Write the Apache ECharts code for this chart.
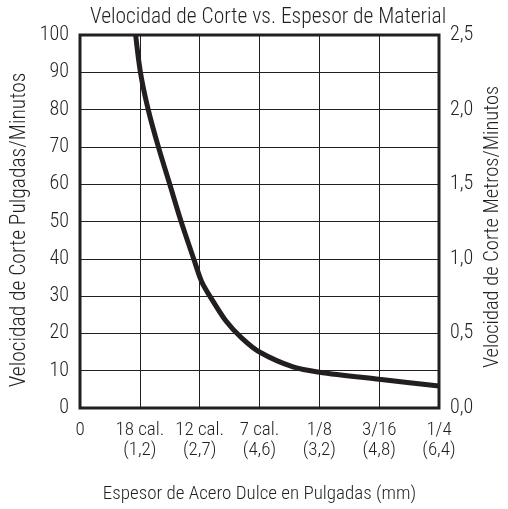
<!DOCTYPE html>
<html><head><meta charset="utf-8">
<script src="https://cdn.jsdelivr.net/npm/echarts@6/dist/echarts.min.js"></script>
<style>html,body{margin:0;padding:0;background:#fff}#c{width:508px;height:509px}</style>
</head><body><div id="c"></div>
<script>
const xValues = [0.93, 1.01, 1.14, 1.31, 1.50, 1.69, 1.90, 2.03, 2.17, 2.44, 2.70, 3.0, 3.56, 4.0, 5.0, 6.0];
const yValues = [100, 90, 80, 70, 60, 50, 40, 34, 30, 23.3, 18.8, 15, 11, 9.6, 7.7, 5.9];
const xTickLabels = ['0', '18 cal.\n(1,2)', '12 cal.\n(2,7)', '7 cal.\n(4,6)', '1/8\n(3,2)', '3/16\n(4,8)', '1/4\n(6,4)'];
const leftTitle = 'Velocidad de Corte Pulgadas/Minutos';
const rightTitle = 'Velocidad de Corte Metros/Minutos';
const FONT = '"Liberation Sans Narrow", "Roboto Condensed", Roboto, sans-serif';
const INK = '#231f20';
const chart = echarts.init(document.getElementById('c'));
chart.setOption({
  animation: false,
  title: { text: 'Velocidad de Corte vs. Espesor de Material', left: 85, top: 2,
    textStyle: { fontFamily: FONT, fontSize: 21.5, fontWeight: 300, color: INK } },
  grid: { left: 80, right: 69, top: 35, bottom: 100, show: true, borderColor: INK, borderWidth: 3, backgroundColor: 'transparent' },
  graphic: [
    { type: 'text', x: 20, y: 230, rotation: Math.PI / 2,
      style: { text: leftTitle, fontFamily: FONT, fontSize: 21.5, fontWeight: 300, fill: INK, align: 'center', verticalAlign: 'middle' } },
    { type: 'text', x: 493, y: 227, rotation: Math.PI / 2,
      style: { text: rightTitle, fontFamily: FONT, fontSize: 20.5, fontWeight: 300, fill: INK, align: 'center', verticalAlign: 'middle' } }
  ],
  xAxis: {
    type: 'value', min: 0, max: 6, interval: 1,
    name: 'Espesor de Acero Dulce en Pulgadas (mm)', nameLocation: 'middle', nameGap: 77, nameMoveOverlap: false,
    nameTextStyle: { fontFamily: FONT, fontSize: 19, fontWeight: 300, color: INK },
    axisLine: { show: false }, axisTick: { show: false },
    splitLine: { show: true, lineStyle: { color: INK, width: 1 } },
    axisLabel: { margin: 12, fontFamily: FONT, fontSize: 19, fontWeight: 300, color: INK, lineHeight: 20, verticalAlign: 'top',
      formatter: v => xTickLabels[Math.round(v)] }
  },
  yAxis: [
    { type: 'value', min: 0, max: 100, interval: 10,
      axisLine: { show: false }, axisTick: { show: false },
      splitLine: { show: true, lineStyle: { color: INK, width: 1 } },
      axisLabel: { margin: 11, fontFamily: FONT, fontSize: 20, fontWeight: 300, color: INK } },
    { type: 'value', min: 0, max: 2.5, interval: 0.5, position: 'right',
      axisLine: { show: false }, axisTick: { show: false }, splitLine: { show: false },
      axisLabel: { margin: 11, fontFamily: FONT, fontSize: 20, fontWeight: 300, color: INK,
        formatter: v => v.toFixed(1).replace('.', ',') } }
  ],
  series: [{
    type: 'line', yAxisIndex: 0, smooth: 0.3, symbol: 'none',
    data: xValues.map((x, i) => [x, yValues[i]]),
    lineStyle: { color: INK, width: 5 }
  }]
});
</script></body></html>
